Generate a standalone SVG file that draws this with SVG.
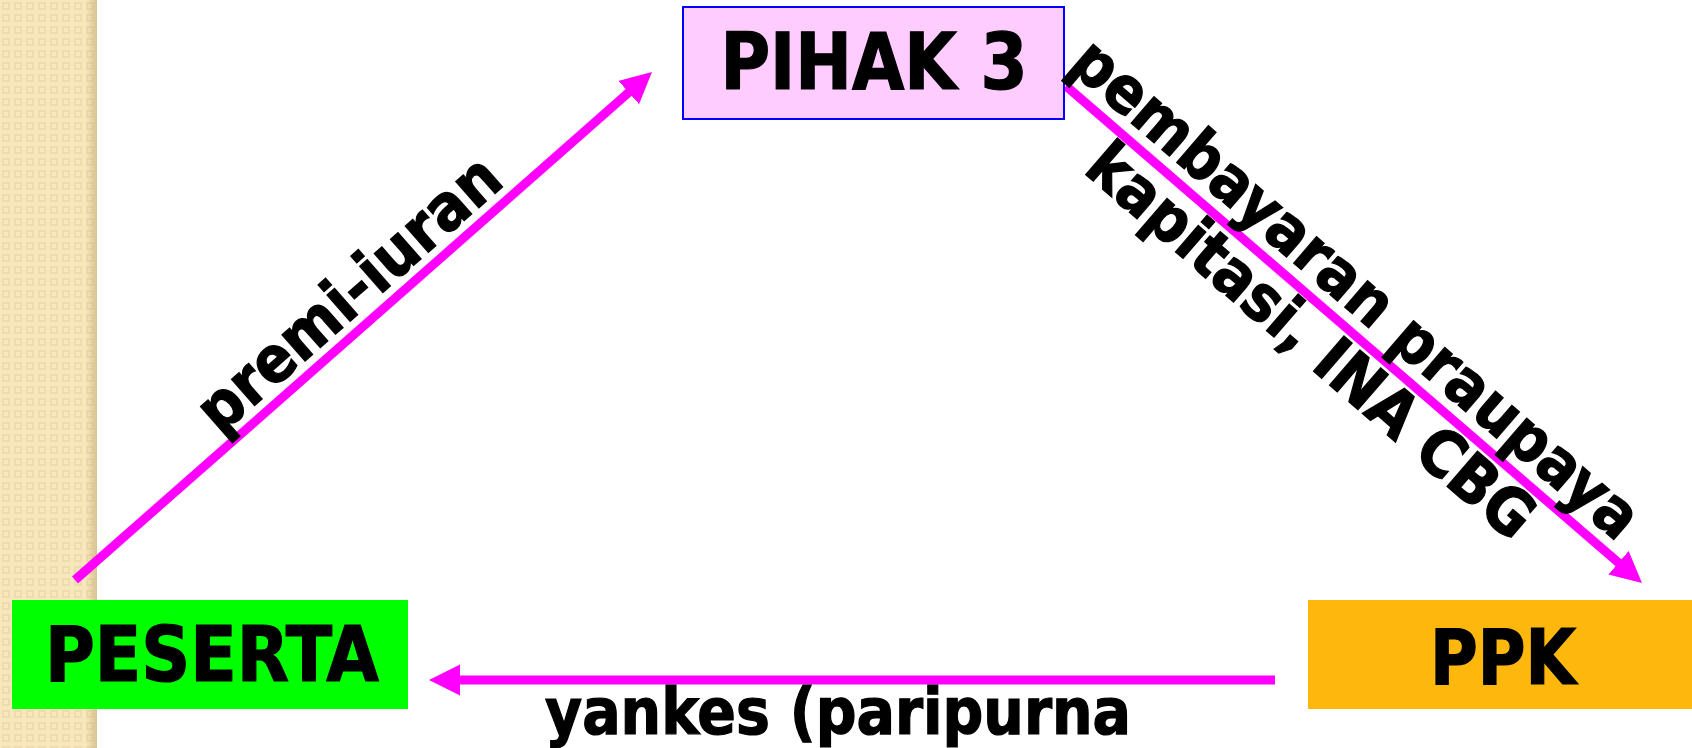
<svg xmlns="http://www.w3.org/2000/svg" width="1692" height="748" viewBox="0 0 1692 748">
<defs>
<pattern id="weave" width="12" height="12" patternUnits="userSpaceOnUse">
<rect width="12" height="12" fill="#F8E7BC"/>
<rect x="3" y="3" width="6" height="6" fill="none" stroke="#EBD8AA" stroke-width="1.5"/>
</pattern>
<linearGradient id="edge" x1="0" y1="0" x2="1" y2="0">
<stop offset="0" stop-color="#C9B27F" stop-opacity="0"/>
<stop offset="1" stop-color="#C9B27F" stop-opacity="0.7"/>
</linearGradient>
<marker id="head" markerUnits="userSpaceOnUse" markerWidth="32" markerHeight="32" refX="5" refY="15.5" orient="auto">
<path d="M0,0 L31,15.5 L0,31 z" fill="#FF00FF"/>
</marker>
<style>
.lbl{font-family:"DejaVu Sans Condensed","DejaVu Sans","Liberation Sans",sans-serif;font-stretch:condensed;font-weight:bold;fill:#000;stroke:#000;stroke-width:1.2}
.conn{stroke:#FF00FF;stroke-width:9;fill:none;marker-end:url(#head)}
</style>
</defs>
<rect width="1692" height="748" fill="#FFFFFF"/>
<rect x="0" y="0" width="97" height="748" fill="url(#weave)"/>
<rect x="86" y="0" width="11" height="748" fill="url(#edge)"/>

<g id="connectors">
<path class="conn" d="M75,580 L632.5,89.2"/>
<path class="conn" d="M1066,86 L1622.3,566"/>
<path class="conn" d="M1275,680 L455,680"/>
</g>

<g id="pihak3">
<rect x="683" y="7" width="381" height="112" fill="#FFCCFF" stroke="#0000FF" stroke-width="2"/>
<text class="lbl" x="874" y="89" font-size="78" text-anchor="middle" textLength="307" lengthAdjust="spacingAndGlyphs">PIHAK 3</text>
</g>
<g id="peserta">
<rect x="12" y="600" width="396" height="109" fill="#00FF00"/>
<text class="lbl" x="212" y="681" font-size="77" text-anchor="middle" textLength="334" lengthAdjust="spacingAndGlyphs">PESERTA</text>
</g>
<g id="ppk">
<rect x="1308" y="600" width="384" height="109" fill="#FDB70D"/>
<text class="lbl" x="1503" y="684" font-size="76" text-anchor="middle" textLength="146" lengthAdjust="spacingAndGlyphs">PPK</text>
</g>

<g id="labels">
<text class="lbl" font-size="64" text-anchor="middle" transform="translate(363,310) rotate(-41.4)">premi-iuran</text>
<text class="lbl" font-size="64" text-anchor="middle" transform="translate(1342,305) rotate(40.8)">pembayaran praupaya</text>
<text class="lbl" font-size="64" text-anchor="middle" transform="translate(1297,357) rotate(40.8)">kapitasi, INA CBG</text>
<text class="lbl" x="838" y="734" font-size="64" text-anchor="middle" textLength="586" lengthAdjust="spacingAndGlyphs">yankes (paripurna</text>
</g>
</svg>
